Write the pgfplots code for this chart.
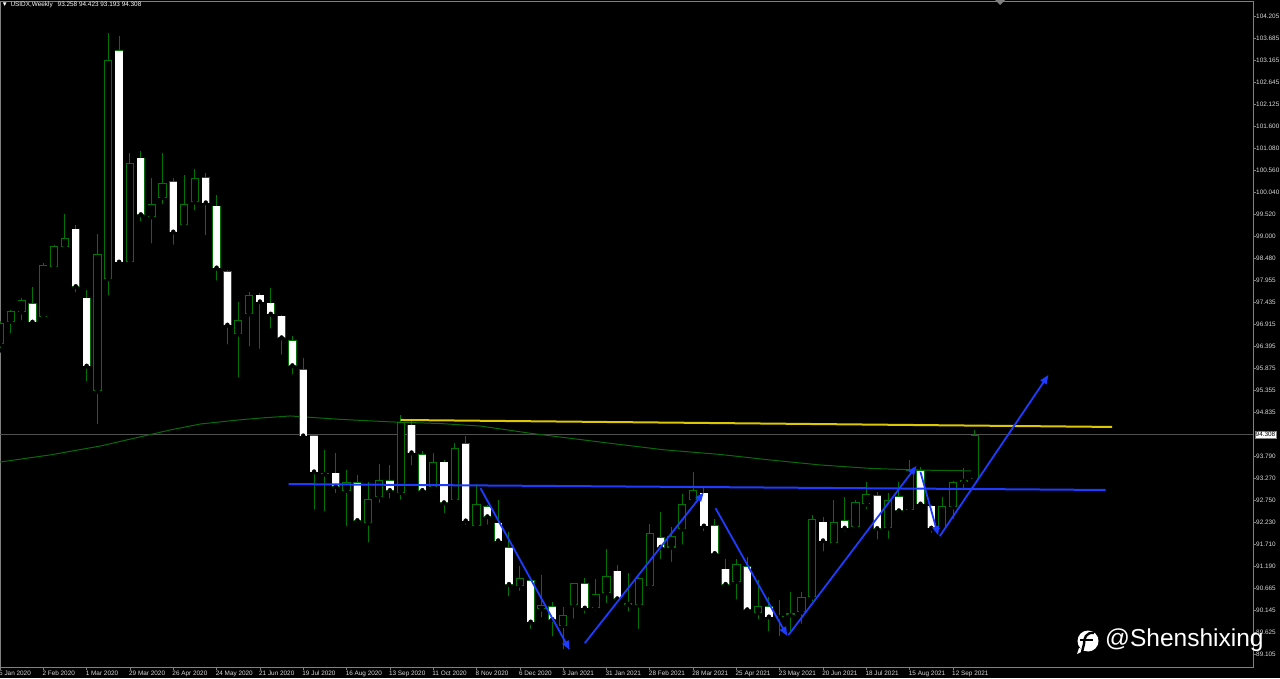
\documentclass[border=0pt]{standalone}
\usepackage{pgfplots}
\usepackage{pgfplotstable}
\pgfplotsset{compat=1.18}
\usepackage{fontspec}
\setmainfont{Liberation Sans}
\usetikzlibrary{arrows.meta}
\definecolor{CandleGreen}{HTML}{007400}
\definecolor{MAGreen}{HTML}{0A6A0A}
\definecolor{TrendBlue}{HTML}{1E3CFF}
\definecolor{TrendYellow}{HTML}{DCC800}
\definecolor{FrameGray}{HTML}{808080}
\definecolor{LabelGray}{HTML}{D8D8D8}
\definecolor{PriceGray}{HTML}{505050}

% weekly USIDX candles: week index (0 = 5 Jan 2020), open, high, low, close
\pgfplotstableread{
i o h l c
0 96.44 97.00 96.30 96.94
1 96.98 97.25 96.66 97.22
2 97.20 97.55 96.96 97.48
3 97.41 97.81 96.94 96.96
4 97.08 98.37 97.04 98.33
5 98.26 98.78 98.23 98.76
6 98.74 99.52 98.66 98.95
7 99.18 99.26 97.63 97.80
8 97.55 97.73 95.52 95.92
9 95.33 99.04 94.51 98.59
10 97.99 103.81 97.55 103.16
11 103.39 103.73 98.32 98.38
12 98.40 100.96 98.37 100.73
13 100.86 101.01 99.30 99.50
14 99.45 100.37 98.78 99.76
15 99.91 100.97 99.71 100.26
16 100.30 100.38 98.75 99.09
17 99.26 100.45 99.26 99.76
18 99.80 100.59 99.56 100.37
19 100.40 100.49 98.97 99.78
20 99.72 99.97 97.90 98.24
21 98.17 98.20 96.39 96.89
22 96.68 97.44 95.62 97.03
23 97.15 97.69 96.35 97.61
24 97.62 97.66 96.29 97.44
25 97.43 97.77 96.77 97.15
26 97.12 97.14 96.15 96.59
27 96.54 96.64 95.68 95.93
28 95.85 96.11 94.24 94.27
29 94.29 94.30 92.49 93.42
30 93.37 93.95 92.45 93.38
31 93.41 93.88 92.88 93.08
32 92.98 93.47 92.09 93.18
33 93.18 93.35 92.16 92.27
34 92.21 93.20 91.71 92.78
35 92.83 93.61 92.65 93.23
36 93.23 93.60 92.75 92.98
37 92.93 94.77 92.72 94.60
38 94.54 94.64 93.53 93.87
39 93.84 93.93 92.96 92.98
40 93.08 93.88 93.00 93.65
41 93.67 93.72 92.41 92.69
42 92.76 94.10 92.72 93.99
43 94.10 94.28 92.13 92.26
44 92.14 93.14 92.09 92.66
45 92.61 92.65 92.13 92.36
46 92.23 92.76 91.70 91.79
47 91.65 92.00 90.44 90.76
48 90.74 91.20 90.57 90.93
49 90.86 90.88 89.67 89.87
50 90.18 90.99 89.94 90.27
51 90.25 90.36 89.49 89.93
52 89.79 90.24 89.19 90.04
53 90.27 90.80 89.91 90.79
54 90.79 90.93 90.03 90.20
55 90.20 90.89 90.08 90.53
56 90.56 91.60 90.28 90.96
57 91.09 91.23 90.28 90.42
58 90.28 91.03 90.08 90.33
59 90.27 90.95 89.67 90.91
60 90.73 92.20 90.62 91.99
61 91.88 92.49 91.32 91.64
62 91.64 92.13 91.25 91.92
63 92.07 92.90 91.66 92.68
64 92.76 93.43 92.72 92.99
65 92.94 93.09 91.98 92.14
66 92.17 92.31 91.44 91.49
67 91.14 91.38 90.72 90.76
68 90.83 91.38 90.36 91.24
69 91.20 91.42 90.12 90.16
70 90.09 90.87 89.90 90.25
71 90.25 90.48 89.61 89.99
72 89.99 90.40 89.49 90.00
73 90.04 90.58 89.61 90.08
74 90.11 90.58 89.79 90.47
75 90.46 92.41 90.32 92.31
76 92.25 92.37 91.50 91.79
77 91.74 92.76 91.69 92.24
78 92.29 92.83 91.98 92.09
79 92.13 92.76 92.05 92.71
80 92.66 93.19 92.50 92.90
81 92.88 92.96 91.78 92.08
82 92.09 92.94 91.80 92.76
83 92.85 93.19 92.45 92.50
84 92.52 93.72 92.46 93.47
85 93.47 93.55 92.64 92.66
86 92.63 92.65 91.94 92.09
87 92.07 92.83 92.01 92.61
88 92.59 93.22 92.27 93.20
89 93.19 93.51 92.96 93.24
90 93.258 94.423 93.193 94.308
}\candles

% moving average
\pgfplotstableread{
i p
0.0 93.66
4.66 93.83
9.28 94.04
12.33 94.22
15.74 94.42
18.51 94.56
22.2 94.66
24.05 94.70
26.8 94.75
31.4 94.67
36.06 94.61
40.7 94.57
44.4 94.51
49.0 94.34
55.2 94.14
61.3 93.95
66.5 93.84
71.1 93.71
75.8 93.59
80.4 93.51
85.0 93.47
90.0 93.45
}\mavg

\begin{document}
\begin{tikzpicture}
\fill[black] (0,0) rectangle (1280pt,678pt);
\begin{axis}[
    at={(0pt,11pt)}, anchor=south west,
    scale only axis, width=1253pt, height=666pt,
    xmin=0, xmax=115.70, ymin=88.815, ymax=104.56,
    clip mode=individual,
    axis line style={FrameGray, line width=0.8pt},
    tick style={FrameGray, line width=0.6pt},
    tick align=outside, major tick length=2.5pt,
    xtick pos=left, ytick pos=right, yticklabel pos=right,
    xtick={0,4,...,88},
    xticklabels={5 Jan 2020, 2 Feb 2020, 1 Mar 2020, 29 Mar 2020, 26 Apr 2020,
        24 May 2020, 21 Jun 2020, 19 Jul 2020, 16 Aug 2020, 13 Sep 2020,
        11 Oct 2020, 8 Nov 2020, 6 Dec 2020, 3 Jan 2021, 31 Jan 2021,
        28 Feb 2021, 28 Mar 2021, 25 Apr 2021, 23 May 2021, 20 Jun 2021,
        18 Jul 2021, 15 Aug 2021, 12 Sep 2021},
    ytick={104.205,103.685,103.165,102.645,102.125,101.600,101.080,100.560,
        100.040,99.520,99.000,98.480,97.955,97.435,96.915,96.395,95.875,
        95.355,94.835,93.790,93.270,92.750,92.230,91.710,91.190,90.665,
        90.145,89.625,89.105},
    yticklabels={104.205,103.685,103.165,102.645,102.125,101.600,101.080,100.560,
        100.040,99.520,99.000,98.480,97.955,97.435,96.915,96.395,95.875,
        95.355,94.835,93.790,93.270,92.750,92.230,91.710,91.190,90.665,
        90.145,89.625,89.105},
    ticklabel style={font=\fontsize{6.4}{7}\selectfont, text=LabelGray, inner sep=0pt},
    xticklabel style={anchor=north west, xshift=-1pt, yshift=-1pt},
    yticklabel style={anchor=west, xshift=0.5pt},
]
% current price line
\addplot[PriceGray, line width=0.8pt] coordinates {(0,94.308) (115.70,94.308)};
% moving average
\addplot[MAGreen, line width=1pt] table[x=i, y=p] {\mavg};

% wicks
\addplot[only marks, mark=none,
    error bars/y dir=plus, error bars/y explicit, error bars/error mark=none,
    error bars/error bar style={draw=CandleGreen, line width=1pt, line cap=butt}]
    table[x=i, y=l, y error plus expr=\thisrow{h}-\thisrow{l}] {\candles};
% body outlines
\addplot[only marks, mark=none,
    error bars/y dir=plus, error bars/y explicit, error bars/error mark=none,
    error bars/error bar style={draw=CandleGreen, line width=8.2pt, line cap=butt}]
    table[x=i, y expr={min(\thisrow{o},\thisrow{c})},
          y error plus expr={max(abs(\thisrow{c}-\thisrow{o}),0.03)}] {\candles};
% bull bodies: black inside
\addplot[only marks, mark=none,
    restrict expr to domain={\thisrow{c}-\thisrow{o}}{0.05:100},
    error bars/y dir=plus, error bars/y explicit, error bars/error mark=none,
    error bars/error bar style={draw=black, line width=6.4pt, line cap=butt}]
    table[x=i, y expr={\thisrow{o}+0.024},
          y error plus expr={\thisrow{c}-\thisrow{o}-0.048}] {\candles};
% bear bodies: white inside
\addplot[only marks, mark=none,
    restrict expr to domain={\thisrow{o}-\thisrow{c}}{0.04:100},
    error bars/y dir=plus, error bars/y explicit, error bars/error mark=none,
    error bars/error bar style={draw=white, line width=7.3pt, line cap=butt}]
    table[x=i, y expr={\thisrow{c}+0.015},
          y error plus expr={\thisrow{o}-\thisrow{c}-0.03}] {\candles};

% drawn trend lines
\addplot[TrendYellow, line width=2pt] coordinates {(37.0,94.655) (102.7,94.49)};
\addplot[TrendBlue, line width=2pt] coordinates {(26.64,93.14) (102.1,93.00)};
\addplot[TrendBlue, line width=1.8pt, -{Triangle[length=9pt,width=7pt]}]
    coordinates {(44.37,93.04) (52.61,89.22)};
\addplot[TrendBlue, line width=1.8pt, -{Triangle[length=9pt,width=7pt]}]
    coordinates {(54.0,89.38) (64.98,92.94)};
\addplot[TrendBlue, line width=1.8pt, -{Triangle[length=9pt,width=7pt]}]
    coordinates {(66.07,92.57) (72.69,89.55)};
\addplot[TrendBlue, line width=1.8pt, -{Triangle[length=9pt,width=7pt]}]
    coordinates {(72.8,89.57) (84.63,93.57)};
\addplot[TrendBlue, line width=1.8pt, -{Triangle[length=9pt,width=7pt]}]
    coordinates {(84.99,93.43) (86.63,91.93)};
\addplot[TrendBlue, line width=1.8pt, -{Triangle[length=9pt,width=7pt]}]
    coordinates {(86.78,91.91) (96.81,95.72)};

% last price tag on the scale
\node[fill=white, draw=FrameGray, text=black, anchor=west, inner xsep=1pt,
      inner ysep=0.8pt, font=\fontsize{6.4}{7}\selectfont, xshift=1.5pt]
    at (axis cs:115.70,94.308) {94.308};
\end{axis}

% header, shift marker, watermark
\node[anchor=west, text=white, inner sep=0pt, font=\fontsize{6.4}{7}\selectfont]
    at (1.5pt,673pt) {▼\hspace{2.5pt}USIDX,Weekly\hspace{5pt}93.258 94.423 93.193 94.308};
\fill[FrameGray] (995pt,678pt) -- (1005pt,678pt) -- (1000pt,673pt) -- cycle;
\fill[white] (1088pt,37pt) circle (10.5pt);
\fill[white] (1079pt,30pt) -- (1077pt,24pt) -- (1085pt,28pt) -- cycle;
\draw[black, line width=2.4pt] (1094pt,45pt) .. controls (1086pt,46pt) and (1084pt,40pt) .. (1084pt,34pt) -- (1082pt,26pt);
\draw[black, line width=2.2pt] (1080pt,38pt) -- (1093pt,38pt);
\node[anchor=west, text=white, inner sep=0pt, font=\fontsize{24.5}{27}\selectfont]
    at (1105pt,38pt) {@Shenshixing};

\pgfresetboundingbox
\path[use as bounding box] (0,0) rectangle (1280pt,678pt);
\end{tikzpicture}
\end{document}
